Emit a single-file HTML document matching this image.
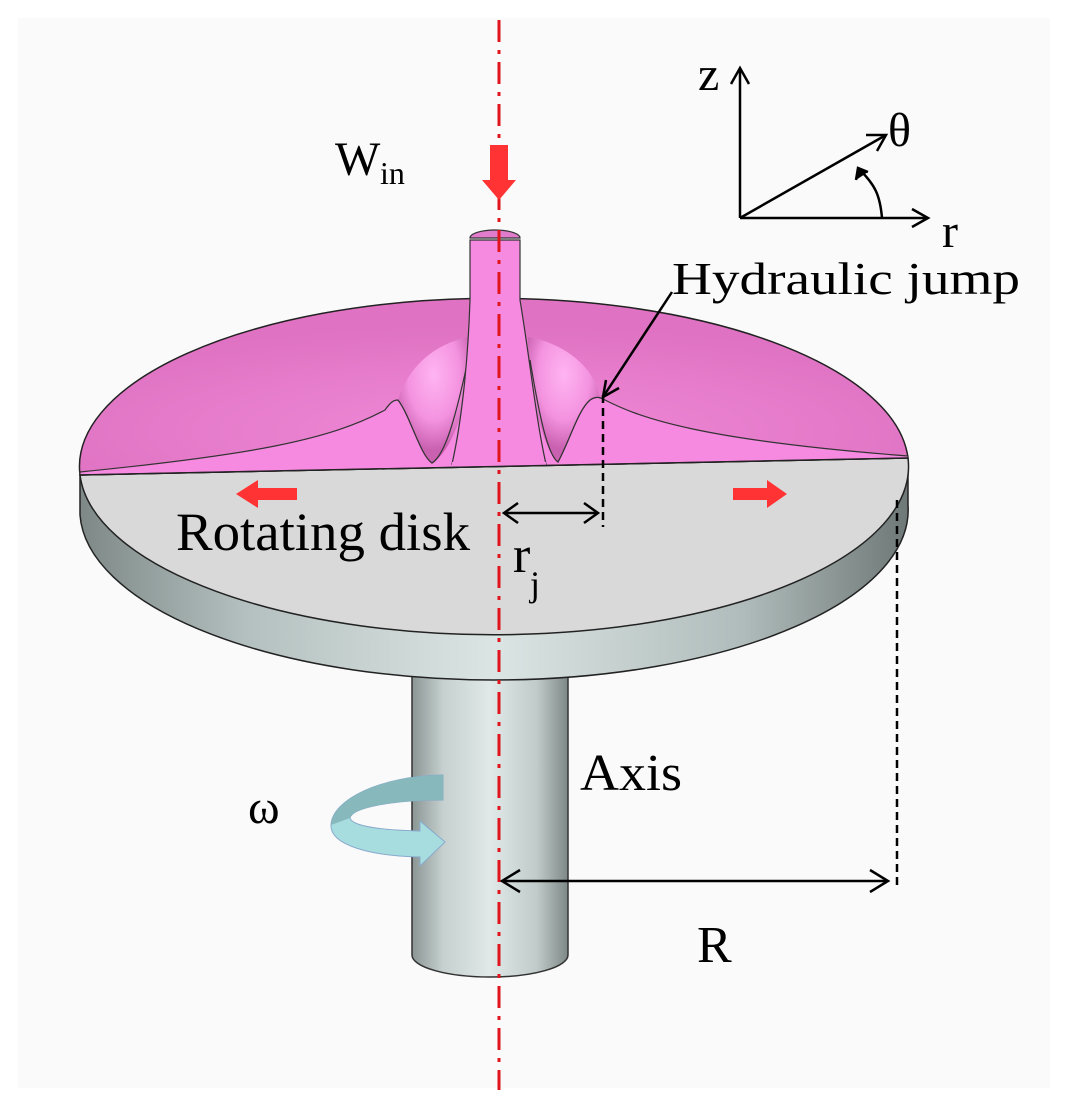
<!DOCTYPE html>
<html><head><meta charset="utf-8"><style>
html,body{margin:0;padding:0;background:#fff;}
svg{display:block;}
text{font-family:"Liberation Serif",serif;fill:#000;}
</style></head><body>
<svg width="1067" height="1106" viewBox="0 0 1067 1106" xmlns="http://www.w3.org/2000/svg">
<defs>
<linearGradient id="side" x1="0" x2="1" y1="0" y2="0">
<stop offset="0" stop-color="#7d8887"/><stop offset="0.2" stop-color="#b4c0bf"/><stop offset="0.5" stop-color="#dbe5e4"/><stop offset="0.8" stop-color="#b0bcbb"/><stop offset="1" stop-color="#6e7877"/>
</linearGradient>
<linearGradient id="shaft" x1="0" x2="1" y1="0" y2="0">
<stop offset="0" stop-color="#8a9594"/><stop offset="0.2" stop-color="#c5d0cf"/><stop offset="0.5" stop-color="#e0e9e8"/><stop offset="0.8" stop-color="#c0cbca"/><stop offset="1" stop-color="#7d8887"/>
</linearGradient>
<radialGradient id="pinkg" cx="0.5" cy="0.75" r="0.6">
<stop offset="0" stop-color="#f08ad8"/><stop offset="1" stop-color="#df72c2"/>
</radialGradient>
<radialGradient id="dome" cx="0.5" cy="0.3" r="0.6">
<stop offset="0" stop-color="#ffb4f2"/><stop offset="0.6" stop-color="#f493e0"/><stop offset="1" stop-color="#c960b0"/>
</radialGradient>
</defs>
<rect x="18" y="18" width="1032" height="1070" fill="#fafafa"/>
<path d="M412 670 L412 955 A78 22 0 0 0 568 955 L568 670 Z" fill="url(#shaft)" stroke="#333" stroke-width="1.5"/>
<path d="M80 475 L80 515 A414 170 0 0 0 908 505 L908 460 Z" fill="url(#side)" stroke="#222" stroke-width="1.5"/>
<path d="M80 475 A414 168 0 0 0 908 458 Z" fill="#d9d9d9" stroke="#222" stroke-width="1.5"/>
<path d="M80 475 A414 168 0 0 1 908 458 Z" fill="url(#pinkg)" stroke="#222" stroke-width="1.5"/>
<!-- lower pink region with waves -->
<path d="M80 472 C250 455 330 440 385 410 C390 403 393 400 398 400 C410 415 420 455 432 463 C445 455 455 420 468 360 L468 464 L530 464 L530 360 C540 420 548 455 558 462 C570 440 578 410 590 400 C596 396 600 397 605 400 C640 418 700 440 908 456 L908 458 L80 475 Z" fill="#f58ae0" stroke="#333" stroke-width="1.2"/>
<!-- dome behind -->
<path d="M398 400 C410 362 440 342 470 337 L470 380 C462 420 448 455 432 463 C420 455 410 415 398 400 Z" fill="url(#dome)"/>
<path d="M528 337 C560 342 595 365 600 398 C594 397 592 398 590 400 C578 410 570 440 558 462 C548 455 538 420 528 380 Z" fill="url(#dome)"/>
<path d="M398 400 C410 415 420 455 432 463 C445 455 455 420 468 360" fill="none" stroke="#333" stroke-width="1.2"/>
<path d="M530 360 C540 420 548 455 558 462 C570 440 578 410 590 400 C596 396 600 397 605 400" fill="none" stroke="#333" stroke-width="1.2"/>
<!-- jet -->
<path d="M470 240 L470 300 C468 360 462 420 452 464 L546 464 C536 420 530 360 520 300 L520 240 Z" fill="#f58ae0" stroke="#333" stroke-width="1.2"/>
<path d="M452 462 L546 462 L546 466 L452 466 Z" fill="#f58ae0"/>
<path d="M470 238 A25 8 0 0 1 520 238 Z" fill="#e07ccb" stroke="#333" stroke-width="1.2"/>
<line x1="80" y1="475" x2="908" y2="458" stroke="#222" stroke-width="1.5"/>
<line x1="499" y1="20" x2="499" y2="1090" stroke="#e0141c" stroke-width="3" stroke-dasharray="22,8,4,8"/>
<path d="M490 145 L508 145 L508 180 L516 180 L499 200 L482 180 L490 180 Z" fill="#f33"/>
<path d="M297 488 L258 488 L258 480 L236 494 L258 508 L258 500 L297 500 Z" fill="#f33"/>
<path d="M733 488 L767 488 L767 480 L787 494 L767 508 L767 500 L733 500 Z" fill="#f33"/>
<path d="M443 775 L443 800 C390 800 352 808 350 818 C352 826 380 830 420 831 L420 821 L445 842 L420 866 L420 857 C370 856 330 845 331 825 C332 800 380 776 443 775 Z" fill="#a8dde0" stroke="#8ac" stroke-width="1"/>
<path d="M443 775 L443 800 C390 800 352 808 350 818 L331 825 C332 800 380 776 443 775 Z" fill="#86b8bc"/>
<g stroke="#000" stroke-width="2.5" fill="none">
<line x1="603" y1="395" x2="603" y2="527" stroke-dasharray="8,5"/>
<line x1="897" y1="500" x2="897" y2="885" stroke-dasharray="8,5"/>
<line x1="504" y1="513" x2="598" y2="513"/>
<path d="M518 503 L504 513 L518 523 M584 503 L598 513 L584 523"/>
<line x1="502" y1="881" x2="888" y2="881"/>
<path d="M520 870 L502 881 L520 892 M870 870 L888 881 L870 892"/>
<line x1="672" y1="292" x2="603" y2="397"/>
<path d="M603 397 L606 380 M603 397 L619 388"/>
<line x1="740" y1="218" x2="740" y2="68"/>
<path d="M731 84 L740 68 L749 84"/>
<line x1="740" y1="218" x2="928" y2="218"/>
<path d="M912 209 L928 218 L912 227"/>
<line x1="740" y1="218" x2="886" y2="135"/>
<path d="M866 135 L886 135 L877 151"/>
<path d="M882 218 C880 195 875 185 860 170"/>
<path d="M856 180 L858 168 L868 172" fill="#000"/>
</g>
<text x="698" y="90" font-size="48">z</text>
<text x="888" y="146" font-size="48">θ</text>
<text x="942" y="247" font-size="48">r</text>
<text x="335" y="175" font-size="48">W</text>
<text x="380" y="184" font-size="32">in</text>
<text x="672" y="294" font-size="46" textLength="348" lengthAdjust="spacingAndGlyphs">Hydraulic jump</text>
<text x="176" y="550" font-size="54" textLength="294" lengthAdjust="spacingAndGlyphs">Rotating disk</text>
<text x="513" y="572" font-size="52">r</text>
<text x="530" y="596" font-size="36">j</text>
<text x="580" y="790" font-size="52" textLength="102" lengthAdjust="spacingAndGlyphs">Axis</text>
<text x="248" y="823" font-size="48">ω</text>
<text x="697" y="962" font-size="52">R</text>
</svg>
</body></html>
